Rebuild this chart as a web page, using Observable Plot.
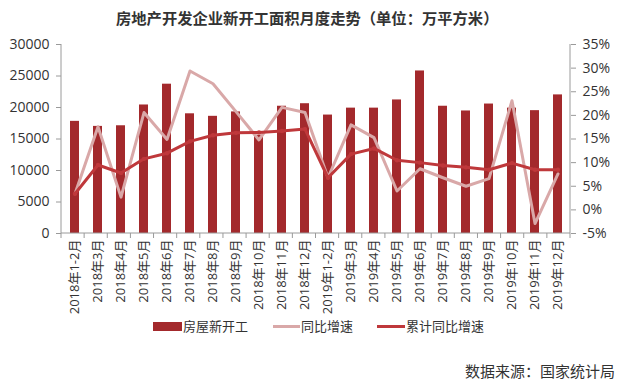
<!DOCTYPE html>
<html>
<head>
<meta charset="utf-8">
<script src="https://cdn.jsdelivr.net/npm/d3@7"></script>
<script src="https://cdn.jsdelivr.net/npm/@observablehq/plot@0.6"></script>
<style>
  html, body { margin: 0; padding: 0; background: #fff; }
  #wrap { position: relative; width: 640px; height: 385px; overflow: hidden;
          font-family: "Open Sans", "Noto Sans CJK SC", sans-serif; color: #333; }
  #wrap svg { position: absolute; left: 0; top: 0; }
  .title { position: absolute; left: 116px; top: 6px; font-size: 15.3px; font-weight: bold;
           white-space: nowrap; color: #333; font-family: "Noto Sans CJK SC", sans-serif; }
  .legend { position: absolute; top: 316px; left: 0; font-size: 13px; color: #333;
            font-family: "Noto Sans CJK SC", sans-serif; }
  .item { position: absolute; white-space: nowrap; line-height: 20px; }
  .sw { position: absolute; }
  .source { position: absolute; right: 25px; top: 360px; font-size: 15px; color: #333;
            white-space: nowrap; font-family: "Noto Sans CJK SC", sans-serif; }
</style>
</head>
<body>
<div id="wrap"></div>
<script>
// ---- data ----
const categories = [
  "2018年1-2月","2018年3月","2018年4月","2018年5月","2018年6月","2018年7月",
  "2018年8月","2018年9月","2018年10月","2018年11月","2018年12月",
  "2019年1-2月","2019年3月","2019年4月","2019年5月","2019年6月","2019年7月",
  "2019年8月","2019年9月","2019年10月","2019年11月","2019年12月"
];
const newStarts = [17800, 17000, 17100, 20400, 23700, 19000, 18600, 19300, 15600, 20200, 20600,
                   18800, 19900, 19900, 21200, 25800, 20200, 19450, 20550, 19900, 19500, 22000];
const yoyGrowth = [3.4, 17.6, 2.7, 20.6, 14.9, 29.4, 26.7, 20.8, 14.8, 21.7, 20.6,
                   6.8, 18.0, 15.3, 4.0, 8.7, 6.8, 5.0, 6.6, 23.1, -2.9, 7.6];
const cumGrowth = [3.4, 9.5, 7.8, 10.8, 12.0, 14.5, 15.8, 16.3, 16.4, 16.7, 17.1,
                   6.8, 11.8, 13.0, 10.5, 10.0, 9.4, 9.0, 8.5, 9.9, 8.5, 8.5];
const leftTicks = [0, 5000, 10000, 15000, 20000, 25000, 30000];
const rightTicks = [-5, 0, 5, 10, 15, 20, 25, 30, 35];
const leftDomain = [0, 30000];
const rightDomain = [-5, 35];
const seriesNames = ["房屋新开工", "同比增速", "累计同比增速"];
const titleText = "房地产开发企业新开工面积月度走势（单位：万平方米）";
const sourceText = "数据来源：国家统计局";

// ---- styles ----
const barColor = "#A3292C";
const yoyColor = "#D9A8A8";
const cumColor = "#BF383B";
const axisColor = "#9a9a9a";

// map right-axis percent onto left-axis domain
const toY = p => (p - rightDomain[0]) / (rightDomain[1] - rightDomain[0]) * (leftDomain[1] - leftDomain[0]) + leftDomain[0];
const fromY = v => (v - leftDomain[0]) / (leftDomain[1] - leftDomain[0]) * (rightDomain[1] - rightDomain[0]) + rightDomain[0];

const data = categories.map((c, i) => ({cat: c, value: newStarts[i], yoy: yoyGrowth[i], cum: cumGrowth[i]}));

const chart = Plot.plot({
  width: 640,
  height: 385,
  marginLeft: 61,
  marginRight: 70,
  marginTop: 44,
  marginBottom: 152,
  style: {fontFamily: "'Open Sans', 'Noto Sans CJK SC', sans-serif", fontSize: "13px", color: "#333", background: "transparent", overflow: "visible"},
  x: {domain: categories, paddingInner: 0.62, paddingOuter: 0.31, label: null},
  y: {domain: leftDomain, label: null},
  marks: [
    Plot.barY(data, {x: "cat", y: "value", fill: barColor}),
    Plot.line(data, {x: "cat", y: d => toY(d.yoy), stroke: yoyColor, strokeWidth: 3, strokeLinejoin: "round"}),
    Plot.line(data, {x: "cat", y: d => toY(d.cum), stroke: cumColor, strokeWidth: 3, strokeLinejoin: "round"}),
    Plot.dot(data, {x: "cat", y: d => toY(d.cum), r: 2.2, fill: cumColor}),
    Plot.axisY({anchor: "left", ticks: leftTicks, tickFormat: d => String(d), tickSize: 5, tickPadding: 7, label: null, fontSize: 14, stroke: axisColor}),
    Plot.axisY({anchor: "right", ticks: rightTicks.map(toY), tickFormat: v => Math.round(fromY(v)) + "%", tickSize: 5, tickPadding: 7, label: null, fontSize: 14, stroke: axisColor}),
    Plot.axisX({tickSize: 0, tickPadding: 6, tickRotate: -90, label: null, fontSize: 13})
  ]
});

// axis domain lines + boundary ticks on the category axis
const xs = chart.scale("x"), ys = chart.scale("y");
const [x0, x1] = xs.range;
const yBottom = ys.range[0], yTop = ys.range[1];
const svg = d3.select(chart);
const g = svg.append("g").attr("stroke", axisColor).attr("stroke-width", 1);
g.append("line").attr("x1", x0).attr("x2", x0).attr("y1", yTop).attr("y2", yBottom);
g.append("line").attr("x1", x1).attr("x2", x1).attr("y1", yTop).attr("y2", yBottom);
g.append("line").attr("x1", x0).attr("x2", x1).attr("y1", yBottom).attr("y2", yBottom);
const n = categories.length;
for (let i = 0; i <= n; i++) {
  const x = x0 + i * (x1 - x0) / n;
  g.append("line").attr("x1", x).attr("x2", x).attr("y1", yBottom).attr("y2", yBottom + 5);
}

const wrap = document.getElementById("wrap");
const title = document.createElement("div");
title.className = "title";
title.textContent = titleText;
wrap.appendChild(title);
wrap.appendChild(chart);

// legend
const legend = document.createElement("div");
legend.className = "legend";
const items = [
  {name: seriesNames[0], type: "bar", color: barColor, sx: 153, tx: 183},
  {name: seriesNames[1], type: "line", color: yoyColor, sx: 273, tx: 301},
  {name: seriesNames[2], type: "line", color: cumColor, sx: 377, tx: 406}
];
for (const it of items) {
  const sw = document.createElement("div");
  sw.className = "sw";
  sw.style.left = it.sx + "px";
  sw.style.width = (it.tx - it.sx - 1) + "px";
  sw.style.background = it.color;
  if (it.type === "bar") { sw.style.top = "6px"; sw.style.height = "9px"; }
  else { sw.style.top = "9px"; sw.style.height = "3px"; }
  legend.appendChild(sw);
  const t = document.createElement("div");
  t.className = "item";
  t.style.left = it.tx + "px";
  t.textContent = it.name;
  legend.appendChild(t);
}
wrap.appendChild(legend);

const src = document.createElement("div");
src.className = "source";
src.textContent = sourceText;
wrap.appendChild(src);
</script>
</body>
</html>
